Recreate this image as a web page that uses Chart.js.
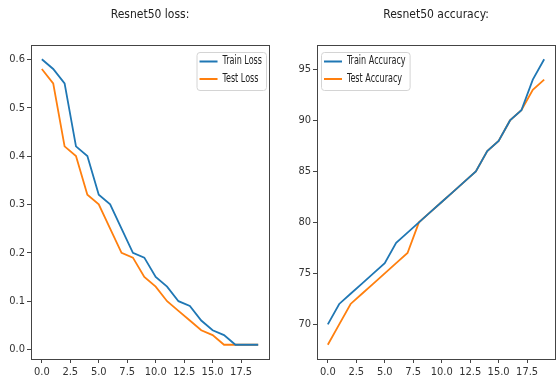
<!DOCTYPE html>
<html>
<head>
<meta charset="utf-8">
<script src="https://cdn.jsdelivr.net/npm/chart.js@4/dist/chart.umd.min.js"></script>
<style>
  html, body { margin: 0; padding: 0; background: #fff; }
  #wrap { position: relative; width: 556px; height: 378px; overflow: hidden; }
  canvas { position: absolute; top: 0; }
</style>
</head>
<body>
<div id="wrap">
  <canvas id="loss" width="278" height="378" style="left:0"></canvas>
  <canvas id="acc" width="278" height="378" style="left:278px"></canvas>
</div>
<script>
// Epochs 0..19
const epochs = [0, 1, 2, 3, 4, 5, 6, 7, 8, 9, 10, 11, 12, 13, 14, 15, 16, 17, 18, 19];

const trainLoss = [0.60, 0.58, 0.55, 0.42, 0.40, 0.32, 0.30, 0.25, 0.20, 0.19,
                   0.15, 0.13, 0.10, 0.09, 0.06, 0.04, 0.03, 0.01, 0.01, 0.01];
const testLoss  = [0.58, 0.55, 0.42, 0.40, 0.32, 0.30, 0.25, 0.20, 0.19, 0.15,
                   0.13, 0.10, 0.08, 0.06, 0.04, 0.03, 0.01, 0.01, 0.01, 0.01];

const trainAcc = [70, 72, 73, 74, 75, 76, 78, 79, 80, 81,
                  82, 83, 84, 85, 87, 88, 90, 91, 94, 96];
const testAcc  = [68, 70, 72, 73, 74, 75, 76, 77, 80, 81,
                  82, 83, 84, 85, 87, 88, 90, 91, 93, 94];

const xTicks = [0, 2.5, 5, 7.5, 10, 12.5, 15, 17.5];
const lossTicks = [0, 0.1, 0.2, 0.3, 0.4, 0.5, 0.6];
const accTicks = [70, 75, 80, 85, 90, 95];

const BLUE = '#1f77b4';
const ORANGE = '#ff7f0e';
const FONT = '"DejaVu Sans Condensed", "Liberation Sans Narrow", "DejaVu Sans", sans-serif';
const AXIS = '#444';
const LEGEND_SQUEEZE = 0.78;

Chart.defaults.font.family = FONT;
Chart.defaults.color = '#333';

function pts(ys) { return epochs.map((x, i) => ({ x: x, y: ys[i] })); }

// Frame around the plotting area
const framePlugin = {
  id: 'frame',
  afterDraw(chart) {
    const a = chart.chartArea, ctx = chart.ctx;
    ctx.save();
    ctx.strokeStyle = AXIS;
    ctx.lineWidth = 1;
    ctx.strokeRect(Math.round(a.left) + 0.5, Math.round(a.top) + 0.5,
                   Math.round(a.right - a.left), Math.round(a.bottom - a.top));
    ctx.restore();
  }
};

// Boxed legend placed inside the plotting area, with narrow lettering
const boxLegend = {
  id: 'boxLegend',
  afterDraw(chart, args, opts) {
    const ctx = chart.ctx, a = chart.chartArea;
    const ds = chart.data.datasets;
    ctx.save();
    ctx.font = '11.5px ' + FONT;
    const textW = LEGEND_SQUEEZE * Math.max(...ds.map(d => ctx.measureText(d.label).width));
    const w = 3 + 18 + 5 + textW + 4;
    const h = 38;
    const x = opts.side === 'right' ? a.right - 3 - w : a.left + 4;
    const y = a.top + 7;
    ctx.fillStyle = 'rgba(255,255,255,0.85)';
    ctx.strokeStyle = '#d4d4d4';
    ctx.lineWidth = 1;
    ctx.beginPath();
    ctx.roundRect(x + 0.5, y + 0.5, w, h, 3);
    ctx.fill();
    ctx.stroke();
    ds.forEach((d, i) => {
      const cy = y + 9.5 + i * 17.5;
      ctx.strokeStyle = d.borderColor;
      ctx.lineWidth = 2;
      ctx.beginPath();
      ctx.moveTo(x + 3, cy);
      ctx.lineTo(x + 21, cy);
      ctx.stroke();
      ctx.save();
      ctx.translate(x + 26, cy);
      ctx.scale(LEGEND_SQUEEZE, 1);
      ctx.fillStyle = '#222';
      ctx.textBaseline = 'middle';
      ctx.fillText(d.label, 0, 0);
      ctx.restore();
    });
    ctx.restore();
  }
};

function makeChart(id, title, series, yTicks, yMin, yMax, yWidth, padRight, legendSide, fmt) {
  return new Chart(document.getElementById(id), {
    type: 'line',
    data: {
      datasets: series.map(s => ({
        label: s.label,
        data: pts(s.data),
        borderColor: s.color,
        backgroundColor: s.color,
        borderWidth: 1.8,
        pointRadius: 0,
        tension: 0,
        fill: false
      }))
    },
    options: {
      responsive: false,
      animation: false,
      devicePixelRatio: 1,
      layout: { padding: { left: 0, right: padRight, top: 0, bottom: 0 } },
      plugins: {
        legend: { display: false },
        tooltip: { enabled: false },
        title: {
          display: true,
          text: title,
          fullSize: false,
          color: '#222',
          font: { size: 12, weight: 'normal', family: FONT },
          padding: { top: 8, bottom: 22.6 }
        },
        boxLegend: { side: legendSide }
      },
      scales: {
        x: {
          type: 'linear',
          min: -0.95,
          max: 19.95,
          afterBuildTicks(scale) { scale.ticks = xTicks.map(v => ({ value: v })); },
          afterFit(scale) { scale.height = 19; },
          grid: { drawOnChartArea: false, color: AXIS, tickLength: 4, tickWidth: 1 },
          border: { display: false },
          ticks: {
            padding: 3,
            maxRotation: 0,
            autoSkip: false,
            font: { size: 11 },
            callback: v => Number(v).toFixed(1)
          }
        },
        y: {
          type: 'linear',
          min: yMin,
          max: yMax,
          afterBuildTicks(scale) { scale.ticks = yTicks.map(v => ({ value: v })); },
          afterFit(scale) { scale.width = yWidth; },
          grid: { drawOnChartArea: false, color: AXIS, tickLength: 4, tickWidth: 1 },
          border: { display: false },
          ticks: {
            padding: 2,
            autoSkip: false,
            font: { size: 11 },
            callback: fmt
          }
        }
      }
    },
    plugins: [framePlugin, boxLegend]
  });
}

makeChart('loss', 'Resnet50 loss:',
  [{ label: 'Train Loss', data: trainLoss, color: BLUE },
   { label: 'Test Loss', data: testLoss, color: ORANGE }],
  lossTicks, -0.0195, 0.6295, 31, 9, 'right', v => Number(v).toFixed(1));

makeChart('acc', 'Resnet50 accuracy:',
  [{ label: 'Train Accuracy', data: trainAcc, color: BLUE },
   { label: 'Test Accuracy', data: testAcc, color: ORANGE }],
  accTicks, 66.6, 97.4, 39, 1, 'left', v => String(v));
</script>
</body>
</html>
